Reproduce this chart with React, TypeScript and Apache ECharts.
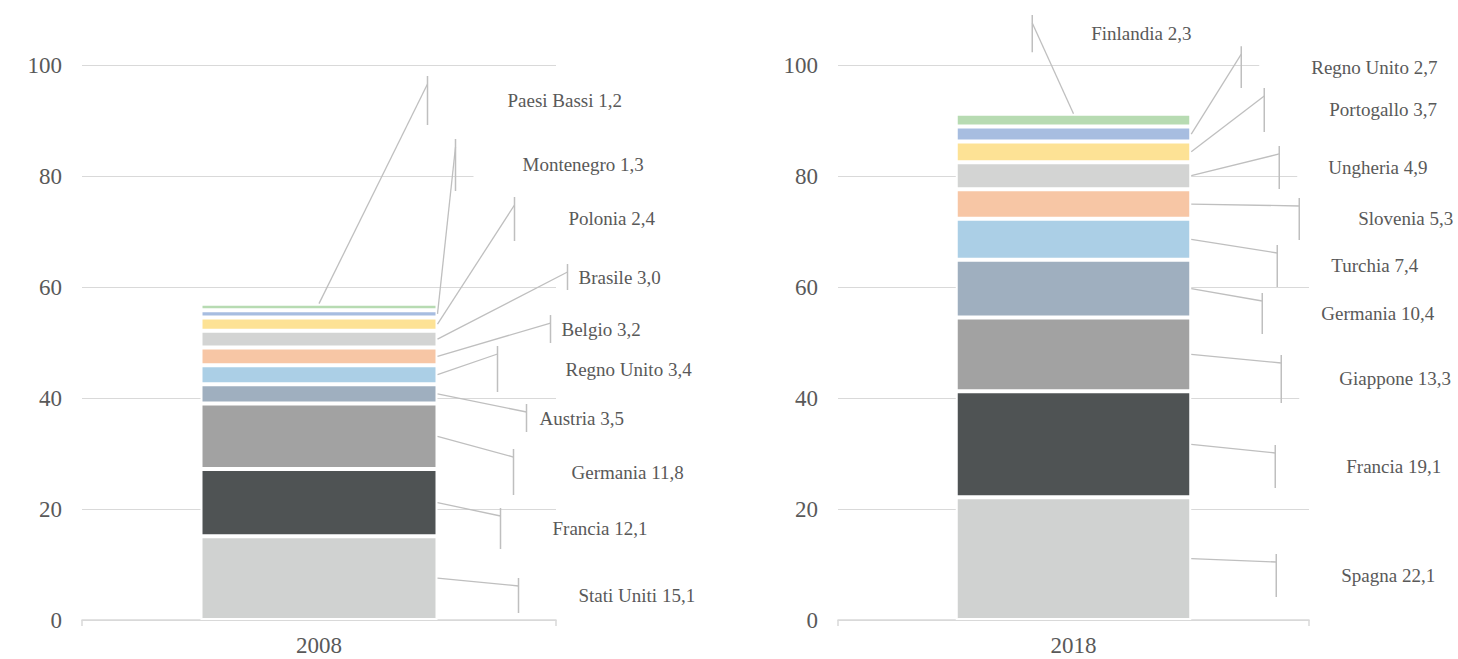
import { useEffect, useRef } from "react";
import * as echarts from "echarts";

// Years shown, one stacked column each
const years = ["2008", "2018"];

const countries2008 = [
  "Stati Uniti", "Francia", "Germania", "Austria", "Regno Unito",
  "Belgio", "Brasile", "Polonia", "Montenegro", "Paesi Bassi",
];
const values2008 = [15.1, 12.1, 11.8, 3.5, 3.4, 3.2, 3.0, 2.4, 1.3, 1.2];

const countries2018 = [
  "Spagna", "Francia", "Giappone", "Germania", "Turchia",
  "Slovenia", "Ungheria", "Portogallo", "Regno Unito", "Finlandia",
];
const values2018 = [22.1, 19.1, 13.3, 10.4, 7.4, 5.3, 4.9, 3.7, 2.7, 2.3];

// y axis ticks
const yMin = 0;
const yMax = 100;
const yStep = 20;

// one colour per stack position (bottom to top)
const segmentColors = [
  "#D0D2D1", "#4F5354", "#A2A2A2", "#9FAFBF", "#ABCFE6",
  "#F7C6A5", "#D3D4D3", "#FDE295", "#A7BDE0", "#B7DBB2",
];

// Callout placement for each segment:
// dx  = x of the callout's bracket, px from the bar's right edge
// top / bottom = vertical extent of the callout box, in axis units
// tx  = x where the label text starts, px from the bar's right edge
// fromTop = leader starts at the top-centre of the stack
type Callout = { dx: number; top: number; bottom: number; tx: number; fromTop?: boolean };

const callouts2008: Callout[] = [
  { dx: 81, top: 7.57, bottom: 1.26, tx: 141 },
  { dx: 63, top: 20.18, bottom: 12.79, tx: 115 },
  { dx: 76, top: 30.81, bottom: 22.52, tx: 134 },
  { dx: 89, top: 38.92, bottom: 33.87, tx: 102 },
  { dx: 60, top: 49.37, bottom: 41.08, tx: 128 },
  { dx: 113, top: 54.95, bottom: 49.91, tx: 124 },
  { dx: 130, top: 64.14, bottom: 59.46, tx: 141 },
  { dx: 77, top: 76.22, bottom: 68.29, tx: 131 },
  { dx: 18, top: 86.67, bottom: 77.3, tx: 85 },
  { dx: -10, top: 98.02, bottom: 89.19, tx: 70, fromTop: true },
];

const callouts2018: Callout[] = [
  { dx: 85, top: 11.89, bottom: 4.14, tx: 150 },
  { dx: 84, top: 31.53, bottom: 23.78, tx: 155 },
  { dx: 90, top: 47.75, bottom: 39.1, tx: 148 },
  { dx: 71, top: 58.92, bottom: 51.53, tx: 130 },
  { dx: 86, top: 67.57, bottom: 60.0, tx: 140 },
  { dx: 108, top: 76.04, bottom: 68.47, tx: 167 },
  { dx: 88, top: 85.41, bottom: 77.66, tx: 137 },
  { dx: 73, top: 95.86, bottom: 87.93, tx: 138 },
  { dx: 50, top: 103.4, bottom: 95.86, tx: 120 },
  { dx: -159, top: 109.0, bottom: 102.3, tx: -100, fromTop: true },
];

const TEXT_COLOR = "#595959";
const GRID_COLOR = "#D9D9D9";
const LEADER_COLOR = "#BFBFBF";
const FONT = "'Liberation Serif', serif";
const BAR_RATIO = 0.5;

const fmt = (v: number) => v.toFixed(1).replace(".", ",");

function cumulative(values: number[]) {
  const out: number[] = [];
  let acc = 0;
  values.forEach((v) => {
    out.push(acc);
    acc += v;
  });
  return out;
}

function calloutRenderer(names: string[], values: number[], layout: Callout[]) {
  const base = cumulative(values);
  return (params: any, api: any) => {
    const i = params.dataIndex;
    const c = layout[i];
    const band = api.size([1, 0])[0];
    const center = api.coord([0, 0])[0];
    const right = center + (band * BAR_RATIO) / 2;

    let ax: number;
    let ay: number;
    if (c.fromTop) {
      ax = center;
      ay = api.coord([0, base[i] + values[i]])[1];
    } else {
      ax = right;
      ay = api.coord([0, base[i] + values[i] / 2])[1];
    }

    const vx = right + c.dx;
    const yTop = api.coord([0, c.top])[1];
    const yBot = api.coord([0, c.bottom])[1];
    const cy = (yTop + yBot) / 2;
    const boxH = Math.max(0, yBot - yTop - 8);
    const lineH = 22;
    const pv = Math.max(0, (boxH - lineH) / 2);
    const textX = right + c.tx;
    const boxLeft = Math.min(vx + 18, textX);
    const padLeft = textX - boxLeft;

    return {
      type: "group",
      children: [
        {
          type: "text",
          style: {
            text: `${names[i]} ${fmt(values[i])}`,
            x: boxLeft,
            y: cy,
            align: "left",
            verticalAlign: "middle",
            fill: TEXT_COLOR,
            fontSize: 19,
            fontFamily: FONT,
            lineHeight: lineH,
            backgroundColor: "#ffffff",
            padding: [pv, 8, pv, padLeft],
          },
        },
        {
          type: "line",
          shape: { x1: ax, y1: ay, x2: vx, y2: yTop + 8 },
          style: { stroke: LEADER_COLOR, lineWidth: 1.3 },
        },
        {
          type: "line",
          shape: { x1: vx, y1: yTop, x2: vx, y2: yBot },
          style: { stroke: LEADER_COLOR, lineWidth: 1.5 },
        },
      ],
    };
  };
}

function barSeries(values: number[], k: number) {
  return values.map((v, i) => ({
    type: "bar",
    name: `${years[k]}-${i}`,
    xAxisIndex: k,
    yAxisIndex: k,
    stack: `stack-${years[k]}`,
    barWidth: `${BAR_RATIO * 100}%`,
    data: [v],
    itemStyle: { color: segmentColors[i], borderColor: "#ffffff", borderWidth: 2 },
    silent: true,
  }));
}

function calloutSeries(names: string[], values: number[], layout: Callout[], k: number) {
  const base = cumulative(values);
  return {
    type: "custom",
    xAxisIndex: k,
    yAxisIndex: k,
    clip: false,
    silent: true,
    z: 10,
    data: values.map((v, i) => [0, base[i] + v / 2]),
    renderItem: calloutRenderer(names, values, layout),
  };
}

export default function App() {
  const ref = useRef<HTMLDivElement>(null);

  useEffect(() => {
    if (!ref.current) return;
    const chart = echarts.init(ref.current, null, { renderer: "svg" });

    const axisLabel = { color: TEXT_COLOR, fontSize: 23, fontFamily: FONT };

    chart.setOption({
      animation: false,
      backgroundColor: "#ffffff",
      grid: [
        { left: 82, top: 65, width: 474, height: 555 },
        { left: 838, top: 65, width: 471, height: 555 },
      ],
      xAxis: years.map((y, k) => ({
        type: "category",
        gridIndex: k,
        data: [y],
        axisLine: { lineStyle: { color: GRID_COLOR, width: 1.5 } },
        axisTick: { show: true, length: 6, lineStyle: { color: GRID_COLOR, width: 1.5 } },
        axisLabel: { ...axisLabel, margin: 14 },
      })),
      yAxis: years.map((_, k) => ({
        type: "value",
        gridIndex: k,
        min: yMin,
        max: yMax,
        interval: yStep,
        axisLine: { show: false },
        axisTick: { show: false },
        splitLine: { lineStyle: { color: GRID_COLOR, width: 1 } },
        axisLabel: { ...axisLabel, margin: 20 },
      })),
      series: [
        ...barSeries(values2008, 0),
        ...barSeries(values2018, 1),
        calloutSeries(countries2008, values2008, callouts2008, 0),
        calloutSeries(countries2018, values2018, callouts2018, 1),
      ],
    });

    return () => chart.dispose();
  }, []);

  return (
    <div
      ref={ref}
      style={{ position: "fixed", left: 0, top: 0, width: 1458, height: 659, background: "#ffffff" }}
    />
  );
}
